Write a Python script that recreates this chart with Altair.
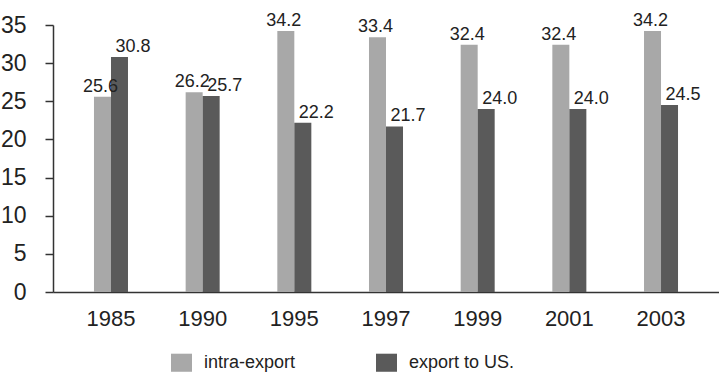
import altair as alt
import pandas as pd

# Export shares by year (percent)
years = ["1985", "1990", "1995", "1997", "1999", "2001", "2003"]
intra_export = [25.6, 26.2, 34.2, 33.4, 32.4, 32.4, 34.2]
export_to_us = [30.8, 25.7, 22.2, 21.7, 24.0, 24.0, 24.5]
series_names = ["intra-export", "export to US."]
series_colors = ["#a8a8a8", "#5a5a5a"]
y_ticks = [0, 5, 10, 15, 20, 25, 30, 35]

rows = []
for yr, a, b in zip(years, intra_export, export_to_us):
    rows.append({"year": yr, "series": series_names[0], "value": a, "label": f"{a:.1f}"})
    rows.append({"year": yr, "series": series_names[1], "value": b, "label": f"{b:.1f}"})
df = pd.DataFrame(rows)

FONT = "Liberation Sans"
INK = "#222222"

x_enc = alt.X(
    "year:N",
    sort=years,
    scale=alt.Scale(paddingInner=0.629, paddingOuter=0.447),
    axis=alt.Axis(
        title=None, labelAngle=0, ticks=False, labelFontSize=22,
        labelPadding=16, labelColor=INK, labelFont=FONT,
        domainColor="#333333", domainWidth=1.5,
    ),
)
xoff_enc = alt.XOffset("series:N", sort=series_names)
y_enc = alt.Y(
    "value:Q",
    scale=alt.Scale(domain=[0, 35], nice=False, zero=True),
    axis=alt.Axis(
        title=None, values=y_ticks, grid=False, tickSize=8, tickWidth=1.5,
        tickColor="#333333", domainColor="#333333", domainWidth=1.5,
        labelFontSize=23, labelPadding=19, labelColor=INK, labelFont=FONT,
        labelOverlap=False, labelFlush=False,
    ),
)

base = alt.Chart(df).encode(x=x_enc, xOffset=xoff_enc, y=y_enc)

bars = base.mark_bar().encode(
    color=alt.Color(
        "series:N",
        sort=series_names,
        scale=alt.Scale(domain=series_names, range=series_colors),
        legend=alt.Legend(
            title=None, orient="none", direction="horizontal",
            legendX=118, legendY=327, padding=0,
            symbolType="M-1,-0.86H1V0.86H-1Z", symbolSize=441,
            symbolStrokeWidth=0, symbolOpacity=1,
            labelFontSize=18, labelFont=FONT, labelColor=INK,
            labelOffset=12, columnPadding=80,
        ),
    ),
)

label_style = dict(fontSize=18, font=FONT, color=INK, baseline="alphabetic", dy=-5)

labels_intra = base.transform_filter(
    alt.datum.series == series_names[0]
).mark_text(align="center", dx=-2, **label_style).encode(text="label:N")

labels_us = base.transform_filter(
    alt.datum.series == series_names[1]
).mark_text(align="left", dx=-4, **label_style).encode(text="label:N")

chart = alt.layer(bars, labels_intra, labels_us).properties(
    width=666,
    height=267,
    autosize=alt.AutoSizeParams(type="none"),
    padding={"left": 53, "top": 25, "right": 0, "bottom": 80},
    background="white",
).configure_view(stroke=None)

chart.save("out.html", embed_options={"renderer": "svg", "actions": False})
